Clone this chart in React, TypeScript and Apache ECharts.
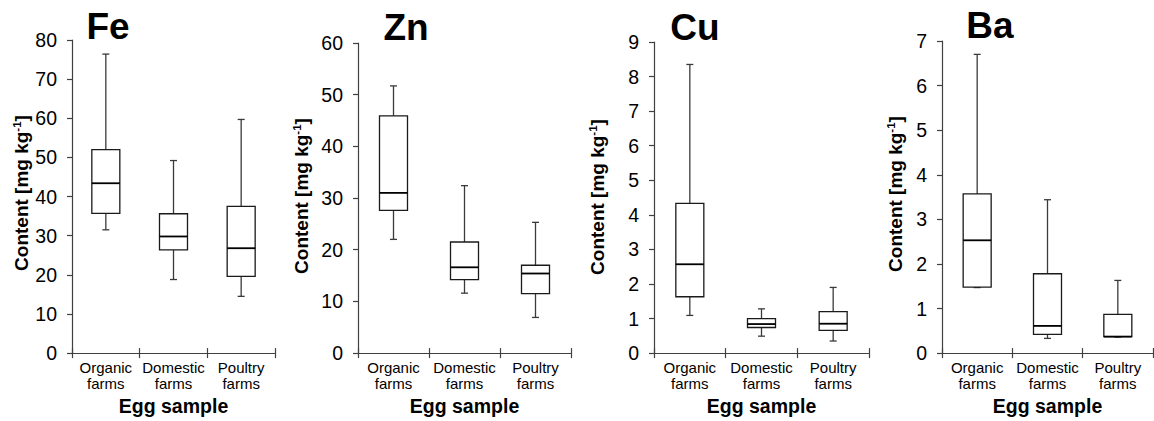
import React, { useEffect, useRef } from "react";
import * as echarts from "echarts";

// ---- data (min, Q1, median, Q3, max) ----
const categories = ["Organic\nfarms", "Domestic\nfarms", "Poultry\nfarms"];
const elements = ["Fe", "Zn", "Cu", "Ba"];
const yMaxes = [80, 60, 9, 7];
const yIntervals = [10, 10, 1, 1];

const feOrganic = [31.5, 35.7, 43.4, 52.0, 76.4];
const feDomestic = [18.8, 26.4, 29.8, 35.6, 49.2];
const fePoultry = [14.5, 19.6, 26.8, 37.5, 59.7];

const znOrganic = [22.0, 27.6, 31.0, 45.9, 51.7];
const znDomestic = [11.6, 14.2, 16.6, 21.5, 32.4];
const znPoultry = [6.9, 11.5, 15.4, 17.0, 25.3];

const cuOrganic = [1.09, 1.63, 2.57, 4.33, 8.35];
const cuDomestic = [0.49, 0.74, 0.84, 1.0, 1.28];
const cuPoultry = [0.35, 0.66, 0.85, 1.2, 1.9];

const baOrganic = [1.47, 1.48, 2.53, 3.57, 6.7];
const baDomestic = [0.33, 0.42, 0.61, 1.78, 3.44];
const baPoultry = [0.36, 0.37, 0.37, 0.87, 1.63];

const panelData = [
  [feOrganic, feDomestic, fePoultry],
  [znOrganic, znDomestic, znPoultry],
  [cuOrganic, cuDomestic, cuPoultry],
  [baOrganic, baDomestic, baPoultry],
];

// ---- layout ----
const FONT = "'Liberation Sans', Arial, sans-serif";
const grids = [
  { left: 72, top: 40, width: 203, height: 316 },
  { left: 358, top: 43, width: 213, height: 312 },
  { left: 654, top: 42, width: 215, height: 313 },
  { left: 942, top: 41, width: 211, height: 314 },
];
const titlePos = [
  [108, 26],
  [406, 27.5],
  [695, 27.5],
  [990, 25.5],
];
const yTitlePos = [
  [21, 193],
  [301, 196],
  [597, 197],
  [895, 194],
];

const BOX_HALF = 14;
const CAP_HALF = 3.5;
const WHISKER = "#3a3a3a";

function renderBox(params: any, api: any) {
  const c = api.value(0);
  const pMin = api.coord([c, api.value(1)]);
  const yQ1 = api.coord([c, api.value(2)])[1];
  const yMed = api.coord([c, api.value(3)])[1];
  const yQ3 = api.coord([c, api.value(4)])[1];
  const yMax = api.coord([c, api.value(5)])[1];
  const cx = pMin[0];
  const yMin = pMin[1];
  const wStyle = { stroke: WHISKER, lineWidth: 1.3 };
  return {
    type: "group",
    children: [
      { type: "line", shape: { x1: cx, y1: yMax, x2: cx, y2: yQ3 }, style: wStyle },
      { type: "line", shape: { x1: cx, y1: yQ1, x2: cx, y2: yMin }, style: wStyle },
      { type: "line", shape: { x1: cx - CAP_HALF, y1: yMax, x2: cx + CAP_HALF, y2: yMax }, style: wStyle },
      { type: "line", shape: { x1: cx - CAP_HALF, y1: yMin, x2: cx + CAP_HALF, y2: yMin }, style: wStyle },
      {
        type: "rect",
        shape: { x: cx - BOX_HALF, y: yQ3, width: BOX_HALF * 2, height: yQ1 - yQ3 },
        style: { fill: "#ffffff", stroke: "#1a1a1a", lineWidth: 1.3 },
      },
      {
        type: "line",
        shape: { x1: cx - BOX_HALF, y1: yMed, x2: cx + BOX_HALF, y2: yMed },
        style: { stroke: "#000000", lineWidth: 1.8 },
      },
    ],
  };
}

export default function App() {
  const ref = useRef<HTMLDivElement>(null);

  useEffect(() => {
    if (!ref.current) return;
    const chart = echarts.init(ref.current, null, { renderer: "svg" });

    const xAxes: any[] = [];
    const yAxes: any[] = [];
    const series: any[] = [];
    const graphics: any[] = [];

    grids.forEach((g, i) => {
      xAxes.push({
        type: "category",
        gridIndex: i,
        data: categories,
        boundaryGap: true,
        name: "Egg sample",
        nameLocation: "middle",
        nameGap: 41,
        nameTextStyle: { fontFamily: FONT, fontSize: 19.5, fontWeight: "bold", color: "#000" },
        axisLine: { lineStyle: { color: "#404040", width: 1.2 } },
        axisTick: { show: true, length: 5, alignWithLabel: false, lineStyle: { color: "#404040", width: 1.2 } },
        axisLabel: {
          fontFamily: FONT,
          fontSize: 15,
          lineHeight: 16,
          color: "#000",
          margin: 6,
          interval: 0,
        },
        splitLine: { show: false },
      });
      xAxes.push({
        type: "category",
        gridIndex: i,
        data: categories,
        boundaryGap: true,
        position: "bottom",
        axisLine: { show: false },
        axisTick: { show: true, inside: true, length: 5, lineStyle: { color: "#404040", width: 1.2 } },
        axisLabel: { show: false },
        splitLine: { show: false },
      });
      yAxes.push({
        type: "value",
        gridIndex: i,
        min: 0,
        max: yMaxes[i],
        interval: yIntervals[i],
        axisLine: { show: true, lineStyle: { color: "#404040", width: 1.2 } },
        axisTick: { show: true, length: 5, lineStyle: { color: "#404040", width: 1.2 } },
        axisLabel: { fontFamily: FONT, fontSize: 19.5, color: "#000", margin: 15 },
        splitLine: { show: false },
      });
      series.push({
        type: "custom",
        xAxisIndex: i * 2,
        yAxisIndex: i,
        renderItem: renderBox,
        encode: { x: 0, y: [1, 2, 3, 4, 5] },
        data: panelData[i].map((d, k) => [k, ...d]),
        clip: false,
      });
      graphics.push({
        type: "text",
        x: titlePos[i][0],
        y: titlePos[i][1],
        style: {
          text: elements[i],
          fontFamily: FONT,
          fontSize: 37,
          fontWeight: "bold",
          fill: "#000",
          align: "center",
          verticalAlign: "middle",
        },
      });
      graphics.push({
        type: "text",
        x: yTitlePos[i][0],
        y: yTitlePos[i][1],
        rotation: Math.PI / 2,
        style: {
          text: "{a|Content [mg kg}{s|-1}{a|]}",
          align: "center",
          verticalAlign: "middle",
          fill: "#000",
          rich: {
            a: { fontFamily: FONT, fontSize: 19, fontWeight: "bold", fill: "#000", lineHeight: 21 },
            s: {
              fontFamily: FONT,
              fontSize: 11.5,
              fontWeight: "bold",
              fill: "#000",
              lineHeight: 21,
              verticalAlign: "top",
            },
          },
        },
      });
    });

    chart.setOption({
      animation: false,
      backgroundColor: "#ffffff",
      grid: grids.map((g) => ({ ...g, containLabel: false })),
      xAxis: xAxes,
      yAxis: yAxes,
      series,
      graphic: graphics,
    });

    return () => chart.dispose();
  }, []);

  return (
    <div
      ref={ref}
      style={{ position: "absolute", left: 0, top: 0, width: 1154, height: 421, background: "#fff" }}
    />
  );
}
